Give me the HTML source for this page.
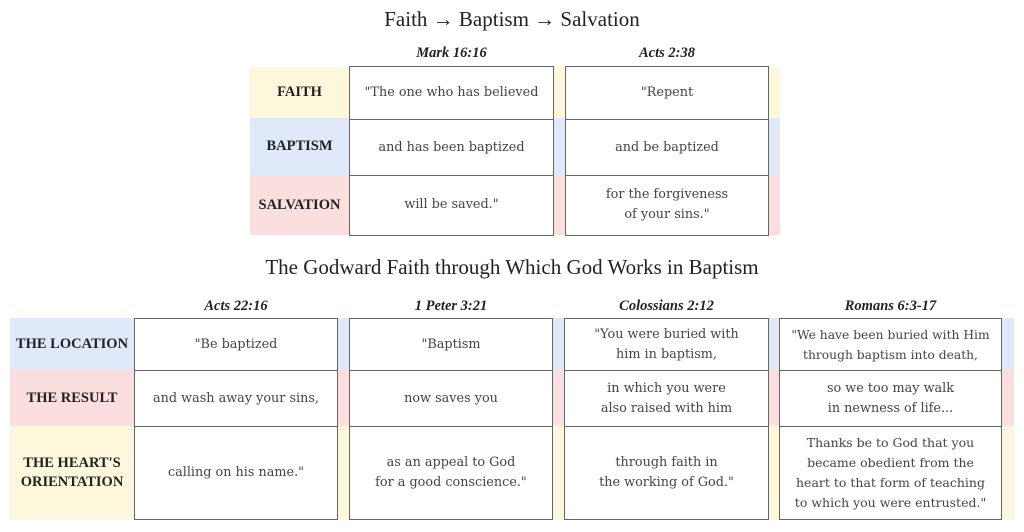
<!DOCTYPE html>
<html><head><meta charset="utf-8"><style>
body{margin:0;width:1024px;height:532px;background:#fff;position:relative;overflow:hidden;font-family:"Liberation Serif",serif;}
.a{position:absolute;}
.t{position:absolute;left:0;width:1024px;text-align:center;font-size:21px;color:#222;}
.h{position:absolute;text-align:center;font-weight:bold;font-style:italic;font-size:14.5px;color:#222;}
.y{background:#fdf8dc}.b{background:#dfe9f9}.p{background:#fbdede}
.lab{position:absolute;display:flex;align-items:center;justify-content:center;text-align:center;font-weight:bold;font-size:14.5px;color:#222;line-height:19px;}
.box{position:absolute;border:1.5px solid #666;background:#fff;box-sizing:border-box;}
.c{position:absolute;display:flex;align-items:center;justify-content:center;text-align:center;font-family:"DejaVu Serif",serif;font-size:12.8px;color:#444;line-height:20px;border-top:1.5px solid #666;box-sizing:border-box;white-space:nowrap;}
.c.f{border-top:none;}
</style></head><body>
<div class="t" style="top:7px">Faith → Baptism → Salvation</div>
<div class="h" style="left:349px;width:205px;top:45px">Mark 16:16</div>
<div class="h" style="left:565px;width:204px;top:45px">Acts 2:38</div>
<div class="a y" style="left:250px;top:67px;width:530px;height:51px"></div>
<div class="a b" style="left:250px;top:118px;width:530px;height:57px"></div>
<div class="a p" style="left:250px;top:175px;width:530px;height:60px"></div>
<div class="lab" style="left:250px;top:67px;width:99px;height:51px">FAITH</div>
<div class="lab" style="left:250px;top:118px;width:99px;height:57px">BAPTISM</div>
<div class="lab" style="left:250px;top:175px;width:99px;height:60px">SALVATION</div>
<div class="box" style="left:349px;top:66px;width:205px;height:170px">
<div class="c f" style="left:0;top:0;width:100%;height:52px">"The one who has believed</div>
<div class="c" style="left:0;top:52px;width:100%;height:57px">and has been baptized</div>
<div class="c" style="left:0;top:108px;width:100%;height:59px">will be saved."</div></div>
<div class="box" style="left:565px;top:66px;width:204px;height:170px">
<div class="c f" style="left:0;top:0;width:100%;height:52px">"Repent</div>
<div class="c" style="left:0;top:52px;width:100%;height:57px">and be baptized</div>
<div class="c" style="left:0;top:108px;width:100%;height:59px">for the forgiveness<br>of your sins."</div></div>

<div class="t" style="top:255px">The Godward Faith through Which God Works in Baptism</div>
<div class="h" style="left:134px;width:204px;top:298px">Acts 22:16</div>
<div class="h" style="left:349px;width:204px;top:298px">1 Peter 3:21</div>
<div class="h" style="left:564px;width:205px;top:298px">Colossians 2:12</div>
<div class="h" style="left:779px;width:223px;top:298px">Romans 6:3-17</div>
<div class="a b" style="left:10px;top:318px;width:1004px;height:52px"></div>
<div class="a p" style="left:10px;top:370px;width:1004px;height:56px"></div>
<div class="a y" style="left:10px;top:426px;width:1004px;height:94px"></div>
<div class="lab" style="left:10px;top:318px;width:124px;height:52px">THE LOCATION</div>
<div class="lab" style="left:10px;top:370px;width:124px;height:56px">THE RESULT</div>
<div class="lab" style="left:10px;top:426px;width:124px;height:94px">THE HEART'S<br>ORIENTATION</div>

<div class="box" style="left:134px;top:318px;width:204px;height:202px">
<div class="c f" style="left:0;top:0;width:100%;height:51px">"Be baptized</div>
<div class="c" style="left:0;top:51px;width:100%;height:57px">and wash away your sins,</div>
<div class="c" style="left:0;top:107px;width:100%;height:92px">calling on his name."</div></div>
<div class="box" style="left:349px;top:318px;width:204px;height:202px">
<div class="c f" style="left:0;top:0;width:100%;height:51px">"Baptism</div>
<div class="c" style="left:0;top:51px;width:100%;height:57px">now saves you</div>
<div class="c" style="left:0;top:107px;width:100%;height:92px">as an appeal to God<br>for a good conscience."</div></div>
<div class="box" style="left:564px;top:318px;width:205px;height:202px">
<div class="c f" style="left:0;top:0;width:100%;height:51px">"You were buried with<br>him in baptism,</div>
<div class="c" style="left:0;top:51px;width:100%;height:57px">in which you were<br>also raised with him</div>
<div class="c" style="left:0;top:107px;width:100%;height:92px">through faith in<br>the working of God."</div></div>
<div class="box" style="left:779px;top:318px;width:223px;height:202px">
<div class="c f" style="left:0;top:0;width:100%;height:51px;font-size:12.3px">"We have been buried with Him<br>through baptism into death,</div>
<div class="c" style="left:0;top:51px;width:100%;height:57px">so we too may walk<br>in newness of life...</div>
<div class="c" style="left:0;top:107px;width:100%;height:92px;font-size:12.5px">Thanks be to God that you<br>became obedient from the<br>heart to that form of teaching<br>to which you were entrusted."</div></div>
</body></html>
